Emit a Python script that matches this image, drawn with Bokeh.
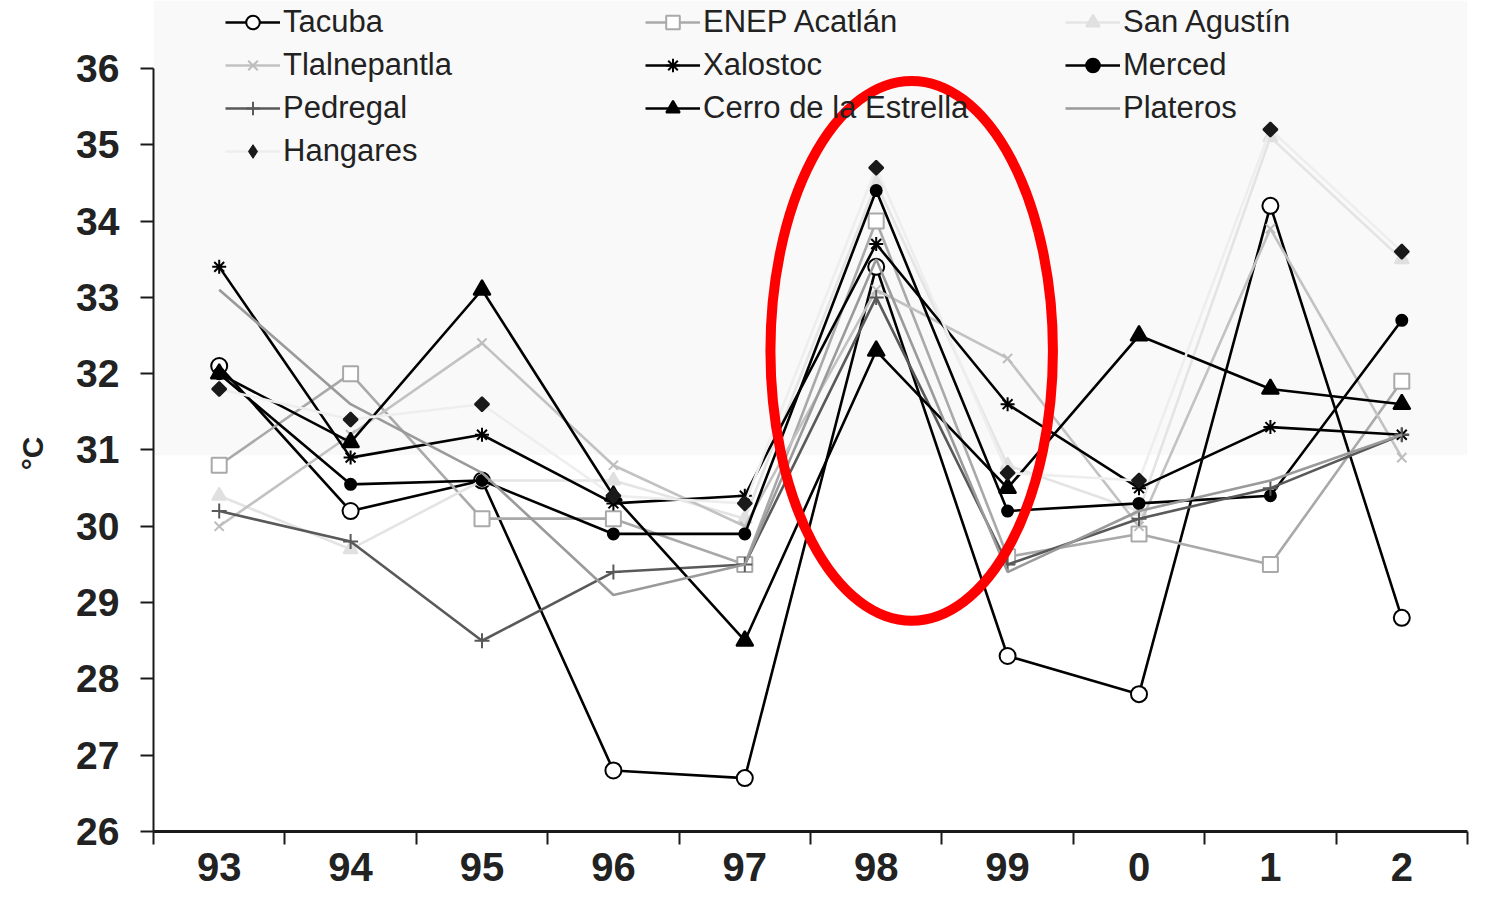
from bokeh.plotting import figure, ColumnDataSource
from bokeh.models import (LinearAxis, FixedTicker, Legend, LegendItem, Range1d,
                          BoxAnnotation)
from bokeh.embed import file_html
from bokeh.resources import INLINE

# ---------------- data ----------------
years = ["93", "94", "95", "96", "97", "98", "99", "0", "1", "2"]

tacuba       = [32.1, 30.2, 30.6, 26.8, 26.7, 33.4, 28.3, 27.8, 34.2, 28.8]
enep_acatlan = [30.8, 32.0, 30.1, 30.1, 29.5, 34.0, 29.6, 29.9, 29.5, 31.9]
san_agustin  = [30.4, 29.7, 30.6, 30.6, 30.1, 34.5, 30.8, 30.2, 35.1, 33.5]
tlalnepantla = [30.0, 31.2, 32.4, 30.8, 30.0, 33.1, 32.2, 30.0, 33.9, 30.9]
xalostoc     = [33.4, 30.9, 31.2, 30.3, 30.4, 33.7, 31.6, 30.5, 31.3, 31.2]
merced       = [32.0, 30.55, 30.6, 29.9, 29.9, 34.4, 30.2, 30.3, 30.4, 32.7]
pedregal     = [30.2, 29.8, 28.5, 29.4, 29.5, 33.0, 29.5, 30.1, 30.5, 31.2]
cerro        = [32.0, 31.1, 33.1, 30.4, 28.5, 32.3, 30.5, 32.5, 31.8, 31.6]
plateros     = [33.1, 31.6, 30.7, 29.1, 29.5, 33.5, 29.4, 30.2, 30.6, 31.2]
hangares     = [31.8, 31.4, 31.6, 30.4, 30.3, 34.7, 30.7, 30.6, 35.2, 33.6]

series_names = ["Tacuba", "ENEP Acatlán", "San Agustín", "Tlalnepantla", "Xalostoc",
                "Merced", "Pedregal", "Cerro de la Estrella", "Plateros", "Hangares"]
series_values = [tacuba, enep_acatlan, san_agustin, tlalnepantla, xalostoc,
                 merced, pedregal, cerro, plateros, hangares]

y_ticks = list(range(26, 37))

# highlight ring around the 1998 peak (category, centre value, spans in category / °C units)
ring_category = "98"
ring_offset = 0.27
ring_center_value = 32.3
ring_span_x = 2.15
ring_span_y = 7.08

# ---------------- styles ----------------
# legend_marker: marker drawn in the legend when it differs from the plotted one
styles = {
    "Tacuba":               dict(lc="#000000", marker="circle",   size=16, fill="#ffffff", mline="#000000", angle=0),
    "ENEP Acatlán":         dict(lc="#a9a9a9", marker="square",   size=15, fill="#ffffff", mline="#a9a9a9", angle=0),
    "San Agustín":          dict(lc="#e4e4e4", marker="triangle", size=14, fill="#e0e0e0", mline="#e0e0e0", angle=0),
    "Tlalnepantla":         dict(lc="#c2c2c2", marker="x",        size=13, fill=None,      mline="#bdbdbd", angle=0),
    "Xalostoc":             dict(lc="#000000", marker="asterisk", size=14, fill=None,      mline="#000000", angle=0),
    "Merced":               dict(lc="#000000", marker="circle",   size=11, fill="#000000", mline="#000000", angle=0),
    "Pedregal":             dict(lc="#595959", marker="cross",    size=15, fill=None,      mline="#595959", angle=0),
    "Cerro de la Estrella": dict(lc="#000000", marker="triangle", size=17, fill="#000000", mline="#000000", angle=0),
    "Plateros":             dict(lc="#9a9a9a", marker=None,       size=0,  fill=None,      mline=None,      angle=0),
    "Hangares":             dict(lc="#eeeeee", marker="square",   size=10, fill="#1a1a1a", mline="#1a1a1a", angle=0.785398,
                                 legend_marker="diamond"),
}

FONT = "Liberation Sans"

p = figure(width=1471, height=900,
           x_range=Range1d(-0.5, len(years) - 0.5),
           y_range=Range1d(26, 36.891),
           x_axis_type=None,
           output_backend="svg", toolbar_location=None,
           min_border_left=153, min_border_right=4,
           min_border_top=0, min_border_bottom=69,
           background_fill_color="#ffffff", border_fill_color="#ffffff")
p.outline_line_color = None
p.grid.grid_line_color = None

# faint grey wash in the upper part of the frame
p.add_layout(BoxAnnotation(bottom=30.93, fill_color="#f9f9f9", fill_alpha=1.0,
                           line_color=None, level="underlay"))

# y axis
ya = p.yaxis[0]
ya.ticker = FixedTicker(ticks=y_ticks)
ya.bounds = (y_ticks[0], y_ticks[-1])
ya.major_tick_out = 13
ya.major_tick_in = 0
ya.minor_tick_line_color = None
ya.axis_line_width = 2
ya.axis_line_color = "#1a1a1a"
ya.major_tick_line_width = 2
ya.major_tick_line_color = "#1a1a1a"
ya.major_label_text_font = FONT
ya.major_label_text_font_style = "bold"
ya.major_label_text_font_size = "39px"
ya.major_label_text_color = "#222222"
ya.major_label_standoff = 21
ya.axis_label = "°C" + "\u00a0" * 9
ya.axis_label_text_font = FONT
ya.axis_label_text_font_style = "bold"
ya.axis_label_text_font_size = "30px"
ya.axis_label_text_color = "#222222"
ya.axis_label_standoff = 24

xi = list(range(len(years)))
boundaries = [i - 0.5 for i in range(len(years) + 1)]

# x axis: tick marks at category boundaries
xa1 = LinearAxis(ticker=FixedTicker(ticks=boundaries),
                 major_label_overrides={b: "" for b in boundaries},
                 major_tick_out=13, major_tick_in=0,
                 major_tick_line_width=2, major_tick_line_color="#1a1a1a",
                 minor_tick_line_color=None,
                 axis_line_width=3, axis_line_color="#1a1a1a",
                 major_label_text_font_size="1px", major_label_standoff=0)
p.add_layout(xa1, "below")
# x axis: labels at category centres
xa2 = LinearAxis(ticker=FixedTicker(ticks=xi),
                 major_label_overrides={i: y for i, y in zip(xi, years)},
                 major_tick_out=0, major_tick_in=0,
                 major_tick_line_color=None, minor_tick_line_color=None,
                 axis_line_color=None,
                 major_label_text_font=FONT, major_label_text_font_style="bold",
                 major_label_text_font_size="40px", major_label_text_color="#222222",
                 major_label_standoff=8)
p.add_layout(xa2, "below")

items = []
for name, vals in zip(series_names, series_values):
    st = styles[name]
    src = ColumnDataSource(dict(x=xi, y=vals))
    line_r = p.line("x", "y", source=src, line_color=st["lc"], line_width=2.6)
    legend_rs = [line_r]
    if st["marker"]:
        kw = dict(size=st["size"], line_color=st["mline"], line_width=2,
                  fill_color=st["fill"])
        mark_r = p.scatter("x", "y", source=src, marker=st["marker"], angle=st["angle"], **kw)
        if "legend_marker" in st:
            # legend-only glyph (its single point is NaN, so nothing is drawn in the plot)
            proxy_src = ColumnDataSource(dict(x=[float("nan")], y=[float("nan")]))
            proxy = p.scatter("x", "y", source=proxy_src, marker=st["legend_marker"],
                              size=st["size"] + 6, line_color=st["mline"],
                              line_width=1, fill_color=st["fill"])
            legend_rs.append(proxy)
        else:
            legend_rs.append(mark_r)
    items.append(LegendItem(label=name, renderers=legend_rs))

# ring annotation
ring_x = years.index(ring_category) + ring_offset
p.ellipse(x=[ring_x], y=[ring_center_value], width=ring_span_x, height=ring_span_y,
          fill_color=None, line_color="#ff0000", line_width=10)

legend = Legend(items=items, location=(72, 662), orientation="horizontal", ncols=3,
                glyph_width=55, glyph_height=34, label_height=34, label_width=355,
                label_standoff=3, spacing=7, padding=0, margin=0,
                background_fill_alpha=0, border_line_color=None,
                label_text_font=FONT, label_text_font_size="31px",
                label_text_color="#222222")
p.add_layout(legend)

open("out.html", "w").write(file_html(p, INLINE))
